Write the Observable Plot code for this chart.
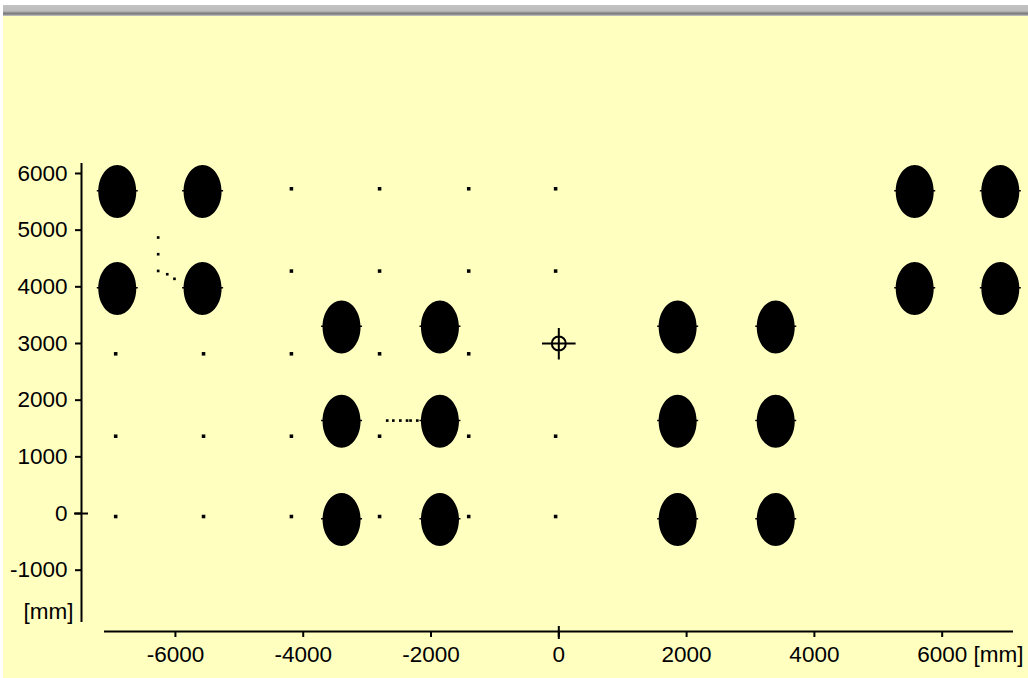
<!DOCTYPE html>
<html><head><meta charset="utf-8">
<script src="https://cdn.jsdelivr.net/npm/d3@7"></script>
<script src="https://cdn.jsdelivr.net/npm/@observablehq/plot@0.6"></script>
<style>
html,body{margin:0;padding:0;background:#FFFFC0;width:1028px;height:678px;overflow:hidden;}
#bar{position:absolute;left:0;top:0;width:1028px;height:16px;background:linear-gradient(to bottom,#ffffff 0px,#ffffff 5px,#c2c2c2 5px,#bcbcbc 11px,#a0a0a0 12px,#7c7c7c 13.5px,#9a9a9a 15px,#d4d4d4 16px);}
#strip{position:absolute;left:0;top:0;width:3px;height:678px;background:#ffffff;}
#chart{position:absolute;left:0;top:0;}
</style></head><body>
<div id="chart"></div><div id="bar"></div><div id="strip"></div>
<script>
// axis ticks
const xTicks = [-6000, -4000, -2000, 0, 2000, 4000, 6000];
const yTicks = [-1000, 0, 1000, 2000, 3000, 4000, 5000, 6000];
const xDomain = [-7110, 7116];
const yDomain = [-1923, 6176];

// reflectors (large ellipses) [mm]
const reflectorX = [-6910, -5575, -6910, -5575, 5570, 6910, 5570, 6910,
                    -3400, -1860, 1860, 3395, -3400, -1860, 1860, 3395,
                    -3400, -1860, 1860, 3395];
const reflectorY = [5680, 5680, 3970, 3970, 5680, 5680, 3970, 3970,
                    3290, 3290, 3290, 3290, 1630, 1630, 1630, 1630,
                    -105, -105, -105, -105];

// small measurement points [mm]
const pointX = [-4185, -2805, -1410, -50,
                -4185, -2805, -1410, -50,
                -6935, -5560, -4185, -2805, -1410,
                -6935, -5560, -4185, -2805, -1410, -50,
                -6935, -5560, -4185, -2805, -1410, -50];
const pointY = [5730, 5730, 5730, 5730,
                4278, 4278, 4278, 4278,
                2818, 2818, 2818, 2818, 2818,
                1364, 1364, 1364, 1364, 1364, 1364,
                -53, -53, -53, -53, -53, -53];

// trails of small points [mm]
const trailX = [-6270, -6270, -6270, -6128, -6015,
                -2685, -2590, -2480, -2375, -2320, -2215];
const trailY = [4870, 4575, 4280, 4222, 4141,
                1640, 1640, 1640, 1640, 1640, 1640];

// scanner position [mm]
const scannerX = [0];
const scannerY = [3000];

const reflectors = reflectorX.map((x, i) => ({x, y: reflectorY[i]}));
const points = pointX.map((x, i) => ({x, y: pointY[i]}));
const trail = trailX.map((x, i) => ({x, y: trailY[i]}));
const scanner = scannerX.map((x, i) => ({x, y: scannerY[i]}));

const ellipseSymbol = {
  draw(ctx, size) {
    const ry = Math.sqrt(size / Math.PI), rx = ry * 0.717, k = 0.5523;
    ctx.moveTo(rx, 0);
    ctx.bezierCurveTo(rx, ry * k, rx * k, ry, 0, ry);
    ctx.bezierCurveTo(-rx * k, ry, -rx, ry * k, -rx, 0);
    ctx.bezierCurveTo(-rx, -ry * k, -rx * k, -ry, 0, -ry);
    ctx.bezierCurveTo(rx * k, -ry, rx, -ry * k, rx, 0);
    ctx.closePath();
    ctx.moveTo(-rx - 1.5, -1.5);
    ctx.lineTo(rx + 1.5, -1.5);
    ctx.lineTo(rx + 1.5, 0);
    ctx.lineTo(-rx - 1.5, 0);
    ctx.closePath();
  }
};
const crossSymbol = {
  draw(ctx, size) {
    const r = Math.sqrt(size / Math.PI);
    ctx.moveTo(r, 0);
    ctx.arc(0, 0, r, 0, 2 * Math.PI);
    ctx.moveTo(-r * 2.4, 0);
    ctx.lineTo(r * 2.4, 0);
    ctx.moveTo(0, -r * 2.2);
    ctx.lineTo(0, r * 2.3);
  }
};

const fmt = d => String(d);

const chart = Plot.plot({
  width: 1028,
  height: 678,
  marginLeft: 104,
  marginRight: 15,
  marginTop: 163,
  marginBottom: 56,
  x: {domain: xDomain, label: null},
  y: {domain: yDomain, label: null},
  style: {background: "transparent", fontFamily: "'Liberation Sans', Arial, sans-serif", fontSize: "22.5px", color: "#000", overflow: "visible"},
  marks: [
    // axis lines
    Plot.ruleY([yDomain[0]], {x1: xDomain[0], x2: xDomain[1], dy: 9, stroke: "#000", strokeWidth: 2}),
    Plot.ruleX([xDomain[0]], {y1: yDomain[0], y2: yDomain[1], dx: -23, stroke: "#000", strokeWidth: 2}),
    Plot.axisX({ticks: xTicks, tickSize: 6, tickPadding: 9, dy: 9, strokeWidth: 2, tickFormat: fmt}),
    Plot.axisX({ticks: [0], tickSize: 13, dy: 4, strokeWidth: 2, tickFormat: () => ""}),
    Plot.axisY({ticks: yTicks, tickSize: 6, tickPadding: 8, dx: -23, strokeWidth: 2, tickFormat: fmt}),
    Plot.axisY({ticks: [0], tickSize: 14, dx: -16, strokeWidth: 2, tickFormat: () => ""}),
    Plot.text(["[mm]"], {text: d => d, frameAnchor: "bottom-left", textAnchor: "end", lineAnchor: "middle", dx: -31, dy: -11}),
    Plot.text(["[mm]"], {text: d => d, frameAnchor: "bottom-right", textAnchor: "end", lineAnchor: "top", dx: 10, dy: 24}),
    // data
    Plot.dot(reflectors, {x: "x", y: "y", r: 26.5, symbol: ellipseSymbol, fill: "#000", stroke: "none"}),
    Plot.dot(points, {x: "x", y: "y", r: 2, symbol: "square", fill: "#000", stroke: "none"}),
    Plot.dot(trail, {x: "x", y: "y", r: 1.5, symbol: "square", fill: "#000", stroke: "none"}),
    Plot.dot(scanner, {x: "x", y: "y", r: 7, symbol: crossSymbol, fill: "none", stroke: "#000", strokeWidth: 2})
  ]
});
document.getElementById("chart").appendChild(chart);
</script></body></html>
